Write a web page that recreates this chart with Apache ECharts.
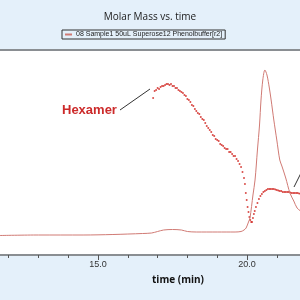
<!DOCTYPE html>
<html>
<head>
<meta charset="utf-8">
<script src="https://cdn.jsdelivr.net/npm/echarts@6/dist/echarts.min.js"></script>
<style>
  html, body { margin: 0; padding: 0; background: #e4f0fa; }
  #chart { width: 300px; height: 300px; }
</style>
</head>
<body>
<div id="chart"></div>
<script>
var seriesName = '08 Sample1 50uL Superose12 Phenolbuffer[r2]';

// detector signal (relative scale) vs time (min)
var signalTime = [11.7, 13.0, 14.5, 15.5, 16.5, 16.8, 17.0, 17.2, 17.5, 17.8, 18.0, 18.3, 19.0, 19.6,
  19.8, 19.9, 19.97, 20.05, 20.1, 20.2, 20.27, 20.35, 20.42, 20.47, 20.53, 20.6, 20.67, 20.75,
  20.81, 20.9, 21.0, 21.1, 21.17, 21.3, 21.44, 21.57, 21.68, 21.8, 22.0];
var signalValue = [0.195, 0.20, 0.20, 0.205, 0.215, 0.22, 0.235, 0.25, 0.255, 0.25, 0.235, 0.23, 0.23, 0.23,
  0.235, 0.25, 0.27, 0.33, 0.37, 0.60, 0.75, 1.05, 1.30, 1.55, 1.75, 1.85, 1.80, 1.67,
  1.55, 1.35, 1.15, 0.95, 0.89, 0.77, 0.62, 0.54, 0.47, 0.44, 0.40];

// molar mass (kg/mol) vs time (min)
var massTime = [16.85, 16.9, 16.95, 17.0, 17.05, 17.1, 17.15, 17.2, 17.25, 17.3, 17.35, 17.4, 17.45,
  17.5, 17.55, 17.6, 17.65, 17.7, 17.75, 17.8, 17.85, 17.9, 17.95, 18.0, 18.05, 18.1, 18.15,
  18.2, 18.25, 18.3, 18.35, 18.4, 18.45, 18.5, 18.55, 18.6, 18.65, 18.7, 18.75, 18.8, 18.85,
  18.9, 18.95, 19.0, 19.05, 19.1, 19.15, 19.2, 19.25, 19.3, 19.35, 19.4, 19.45, 19.5, 19.55,
  19.6, 19.65, 19.7, 19.75, 19.8, 19.85, 19.9, 19.93, 19.96, 19.99, 20.02, 20.05, 20.08, 20.11,
  20.14, 20.17, 20.2, 20.23, 20.26, 20.3, 20.35, 20.4, 20.45, 20.5, 20.55, 20.6, 20.65, 20.7,
  20.75, 20.8, 20.85, 20.9, 20.95, 21.0, 21.05, 21.1, 21.15, 21.2, 21.25, 21.3, 21.35, 21.4,
  21.45, 21.5, 21.55, 21.6, 21.65, 21.7, 21.75, 21.8];
var massValue = [1570, 1640, 1650, 1670, 1660, 1680, 1690, 1690, 1700, 1710, 1710, 1700, 1710,
  1690, 1690, 1670, 1670, 1650, 1640, 1630, 1620, 1600, 1590, 1560, 1550, 1530, 1500,
  1490, 1460, 1440, 1420, 1410, 1380, 1360, 1350, 1320, 1290, 1270, 1250, 1230, 1200,
  1190, 1160, 1150, 1140, 1110, 1100, 1090, 1070, 1060, 1060, 1030, 1030, 1010, 990,
  990, 960, 940, 910, 880, 830, 770, 710, 620, 550, 480, 430, 380, 350,
  330, 330, 370, 410, 440, 480, 520, 560, 590, 610, 630, 640, 650, 660,
  660, 660, 660, 660, 655, 650, 645, 640, 640, 630, 630, 630, 630, 630,
  625, 620, 620, 620, 620, 620, 615, 610];

var chart = echarts.init(document.getElementById('chart'));

var options = {
  backgroundColor: '#e4f0fa',
  title: [
    {
      text: 'Molar Mass vs. time',
      left: 'center',
      top: 7,
      textStyle: {fontFamily: 'Open Sans', fontSize: 10, fontWeight: 'normal', color: '#1a1a1a'},
    },
    {
      text: 'time (min)',
      left: 173,
      top: 270,
      textAlign: 'center',
      textStyle: {fontFamily: 'Open Sans', fontSize: 10, fontWeight: 'bold', color: '#111'},
    },
  ],

  legend: {
    data: [seriesName],
    left: 62,
    top: 30,
    padding: [1, 3],
    itemGap: 0,
    itemWidth: 7,
    itemHeight: 2,
    icon: 'rect',
    borderColor: '#333',
    borderWidth: 1,
    borderRadius: 0,
    textStyle: {fontFamily: 'Liberation Sans', fontSize: 7, color: '#222', padding: [0, 0, 0, -1]},
  },

  grid: {
    left: -51,
    right: -96,
    top: 50,
    bottom: 45,
    outerBoundsMode: 'none',
    containLabel: false,
    show: true,
    backgroundColor: '#fff',
    borderWidth: 0,
  },

  xAxis: [
    {
      type: 'value',
      min: 10,
      max: 25,
      interval: 5,
      axisLine: {show: true, onZero: false, lineStyle: {color: '#8a8e92', width: 2}},
      axisTick: {show: true, length: 5, lineStyle: {color: '#555'}},
      minorTick: {show: true, splitNumber: 5, length: 3, lineStyle: {color: '#555'}},
      axisLabel: {
        margin: 5,
        fontFamily: 'Liberation Sans',
        fontSize: 9,
        color: '#333',
        formatter: function(v) { return v.toFixed(1); },
      },
      splitLine: {show: false},
    },
    {
      type: 'value',
      position: 'top',
      min: 10,
      max: 25,
      interval: 5,
      axisLine: {show: true, onZero: false, lineStyle: {color: '#8a8e92', width: 2}},
      axisTick: {show: false},
      axisLabel: {show: false},
      splitLine: {show: false},
    },
  ],

  yAxis: [
    {type: 'value', min: 0, max: 2.05, show: false},
    {type: 'value', min: 0, max: 2050, show: false},
  ],

  graphic: [
    {
      type: 'text',
      left: 62,
      top: 104,
      style: {text: 'Hexamer', fill: '#cc2a2a', font: 'bold 13px "Liberation Sans"'},
    },
    {
      type: 'line',
      shape: {x1: 120, y1: 110, x2: 150, y2: 89},
      style: {stroke: '#333', lineWidth: 1},
    },
    {
      type: 'line',
      shape: {x1: 294, y1: 187, x2: 301, y2: 173},
      style: {stroke: '#333', lineWidth: 1},
    },
  ],

  series: [
    {
      name: seriesName,
      type: 'line',
      xAxisIndex: 0,
      yAxisIndex: 0,
      data: signalTime.map(function(t, i) { return [t, signalValue[i]]; }),
      showSymbol: false,
      smooth: 0.3,
      lineStyle: {color: '#d07a74', width: 1},
      itemStyle: {color: '#d07a74'},
      silent: true,
    },
    {
      name: 'Molar Mass',
      type: 'scatter',
      xAxisIndex: 0,
      yAxisIndex: 1,
      data: massTime.map(function(t, i) { return [t, massValue[i]]; }),
      symbolSize: 2,
      itemStyle: {color: '#d0201c'},
      silent: true,
    },
  ],
};

chart.setOption(options);
</script>
</body>
</html>
